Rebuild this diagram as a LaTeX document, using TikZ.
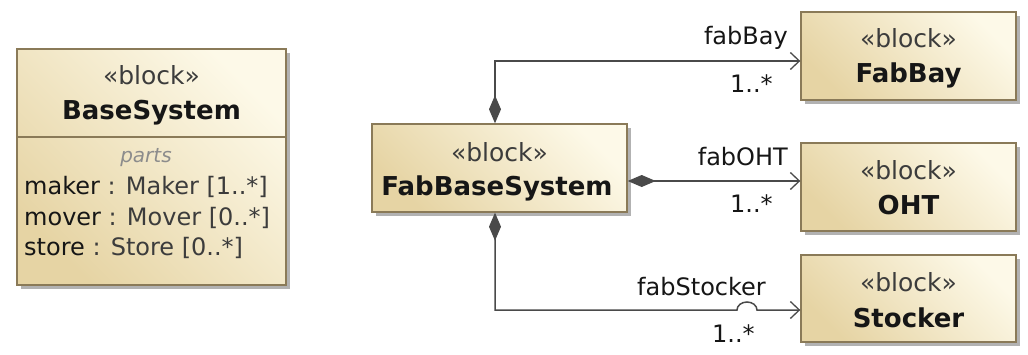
\documentclass[tikz,border=0pt]{standalone}
\usepackage{fontspec}
\setmainfont{DejaVu Sans}
\usetikzlibrary{arrows.meta,shadows,calc}
\definecolor{bd}{HTML}{8A7A58}
\definecolor{tanA}{HTML}{E6D4A4}
\definecolor{tanB}{HTML}{FDF9E8}
\definecolor{ln}{HTML}{4A4A4A}
\definecolor{tx}{HTML}{161616}
\definecolor{gr}{HTML}{3C3C3C}
\definecolor{lg}{HTML}{8C8C8C}
\begin{document}
\begin{tikzpicture}[x=1pt,y=1pt,
 blockbox/.style={draw=bd, line width=1.4pt, inner sep=0pt, left color=tanA, right color=tanB, shading angle=135,
   drop shadow={shadow xshift=4pt,shadow yshift=-4pt,fill=black,opacity=0.3}},
 stereo/.style={font=\fontsize{25}{28}\selectfont, text=gr, inner sep=0pt},
 bname/.style={font=\fontsize{26}{30}\selectfont\bfseries, text=tx, inner sep=0pt},
 prop/.style={font=\fontsize{24}{31}\selectfont, anchor=west, inner sep=0pt, text=tx},
 lbl/.style={font=\fontsize{24}{28}\selectfont, inner sep=0pt, text=tx},
 conn/.style={draw=ln, line width=1.5pt,
   {Diamond[length=28pt,width=12pt,fill=ln]}-{Straight Barb[length=9pt,width=17pt,line width=1.3pt]}}
]
\useasboundingbox[fill=white] (0,0) rectangle (1028,354);

% BaseSystem
\node[blockbox, minimum width=269pt, minimum height=236pt] (bs) at (151.5,187) {};
\coordinate (dv) at (0,217);
\draw[draw=bd, line width=1.2pt] (bs.west |- dv) -- (bs.east |- dv);
\node[stereo] (bsst) at (151.5,279) {«block»};
\node[bname] (bsnm) at (151.5,241) {BaseSystem};
\node[font=\fontsize{20}{24}\selectfont\itshape, text=lg, inner sep=0pt] (bspt) at (146,196) {parts};
\node[prop] (p1) at (24,167) {maker \textcolor{gr}{: Maker [1..*]}};
\node[prop] (p2) at (24,136) {mover \textcolor{gr}{: Mover [0..*]}};
\node[prop] (p3) at (24,106) {store \textcolor{gr}{: Store [0..*]}};

% FabBaseSystem
\node[blockbox, minimum width=255pt, minimum height=88pt] (fbs) at (499.5,186) {};
\node[stereo] (fbsst) at (499.5,202) {«block»};
\node[bname] (fbsnm) at (497,166) {FabBaseSystem};

% FabBay
\node[blockbox, minimum width=215pt, minimum height=88pt] (fb) at (908.5,298) {};
\node[stereo] (fbst) at (908.5,316) {«block»};
\node[bname] (fbnm) at (908.5,279) {FabBay};

% OHT
\node[blockbox, minimum width=215pt, minimum height=88pt] (oht) at (908.5,167) {};
\node[stereo] (ohtst) at (908.5,184) {«block»};
\node[bname] (ohtnm) at (908.5,149) {OHT};

% Stocker
\node[blockbox, minimum width=215pt, minimum height=87pt] (stk) at (908.5,55.5) {};
\node[stereo] (stkst) at (908.5,72) {«block»};
\node[bname] (stknm) at (908.5,36) {Stocker};

% connectors
\draw[conn] ([xshift=-4.5pt]fbs.north) |- ([yshift=-5pt]fb.west);
\draw[conn] ([yshift=-13pt]fbs.east) -- ([yshift=6pt]oht.west);
\coordinate (jmp) at (737,44);
\draw[conn] ([xshift=-4.5pt]fbs.south) |- (jmp)
  arc[start angle=180,end angle=0,x radius=10pt,y radius=8pt] -- ([yshift=-11.5pt]stk.west);

% role labels
\node[lbl, anchor=base east] (l1) at (788,309) {fabBay};
\node[lbl, anchor=base west] (m1) at (730,261) {1..*};
\node[lbl, anchor=base east] (l2) at (788,189) {fabOHT};
\node[lbl, anchor=base west] (m2) at (730,142) {1..*};
\node[lbl, anchor=base east] (l3) at (766,59) {fabStocker};
\node[lbl, anchor=base west] (m3) at (712,12) {1..*};
\end{tikzpicture}
\end{document}
